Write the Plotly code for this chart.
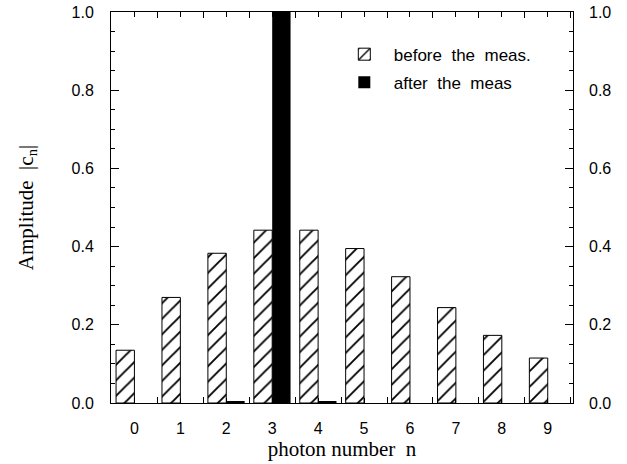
import plotly.graph_objects as go

n_vals = [0, 1, 2, 3, 4, 5, 6, 7, 8, 9]
before_meas = [0.135, 0.27, 0.383, 0.442, 0.442, 0.395, 0.323, 0.244, 0.173, 0.115]
after_meas = [0.0, 0.0, 0.005, 1.0, 0.005, 0.0, 0.0, 0.0, 0.0, 0.0]
y_ticks = [0.0, 0.2, 0.4, 0.6, 0.8, 1.0]
y_ticktext = ["0.0", "0.2", "0.4", "0.6", "0.8", "1.0"]
y_minor_ticks = [0.05, 0.1, 0.15, 0.25, 0.3, 0.35, 0.45, 0.5, 0.55, 0.65, 0.7, 0.75, 0.85, 0.9, 0.95]
x_ticktext = [str(v) for v in n_vals]
x_boundaries = [-0.5, 0.5, 1.5, 2.5, 3.5, 4.5, 5.5, 6.5, 7.5, 8.5, 9.5]

SANS = "Liberation Sans, Arial, sans-serif"
SERIF = "Liberation Serif, Times New Roman, serif"

fig = go.Figure()
fig.add_trace(go.Bar(
    x=n_vals, y=before_meas, name="\u00a0\u00a0before\u00a0 the\u00a0 meas.",
    width=0.4, offset=-0.4,
    marker=dict(color="white", line=dict(color="black", width=1),
                pattern=dict(shape="/", fgcolor="black", bgcolor="white", fgopacity=1,
                             size=11, solidity=0.17)),
    legendgroup="a",
))
fig.add_trace(go.Bar(
    x=n_vals, y=after_meas, name="\u00a0\u00a0after\u00a0 the\u00a0 meas",
    width=0.4, offset=0.0,
    marker=dict(color="black", line=dict(color="black", width=0)),
    legendgroup="b",
))
# invisible traces to activate the extra axes (right labels, minor ticks)
fig.add_trace(go.Scatter(x=[n_vals[0]], y=[y_ticks[0]], yaxis="y2", mode="markers",
                         marker=dict(opacity=0), showlegend=False, hoverinfo="skip"))
fig.add_trace(go.Scatter(x=[n_vals[0]], y=[y_ticks[0]], yaxis="y3", mode="markers",
                         marker=dict(opacity=0), showlegend=False, hoverinfo="skip"))
fig.add_trace(go.Scatter(x=[n_vals[0]], y=[y_ticks[0]], xaxis="x2", mode="markers",
                         marker=dict(opacity=0), showlegend=False, hoverinfo="skip"))

fig.update_layout(
    width=627, height=464,
    margin=dict(l=111, r=54, t=12, b=61),
    paper_bgcolor="white", plot_bgcolor="white",
    barmode="overlay",
    showlegend=True,
    legend=dict(x=0.505, y=0.937, xanchor="left", yanchor="top",
                font=dict(family=SANS, size=17, color="black"),
                bgcolor="rgba(0,0,0,0)", traceorder="grouped", tracegroupgap=3),
    xaxis=dict(
        range=[-0.51, 9.55], tickmode="array", tickvals=n_vals, ticktext=x_ticktext,
        ticks="inside", ticklen=5, tickcolor="black", tickwidth=1,
        showline=True, linecolor="black", linewidth=1, mirror="ticks",
        showgrid=False, zeroline=False, automargin=False,
        tickfont=dict(family=SANS, size=16, color="black"),
        ticklabelstandoff=11,
        title=dict(text="photon number\u00a0 n", font=dict(family=SERIF, size=21, color="black"), standoff=4),
    ),
    xaxis2=dict(
        overlaying="x", side="bottom", anchor="y", range=[-0.51, 9.55], tickmode="array",
        tickvals=x_boundaries, showticklabels=False,
        ticks="inside", ticklen=6, tickcolor="black", tickwidth=1,
        showline=False, mirror="ticks", showgrid=False, zeroline=False, automargin=False,
    ),
    yaxis=dict(
        range=[0, 1.0], tickmode="array", tickvals=y_ticks, ticktext=y_ticktext,
        ticks="inside", ticklen=8, tickcolor="black", tickwidth=1,
        showline=True, linecolor="black", linewidth=1, mirror="ticks",
        showgrid=False, zeroline=False, automargin=False,
        tickfont=dict(family=SANS, size=16, color="black"),
        ticklabelstandoff=13,
        title=dict(text="Amplitude\u00a0 |c<sub>n</sub>|", font=dict(family=SERIF, size=21, color="black"), standoff=32),
    ),
    yaxis2=dict(
        overlaying="y", side="right", range=[0, 1.0], tickmode="array",
        tickvals=y_ticks, ticktext=y_ticktext, ticks="", showline=False,
        showgrid=False, zeroline=False, automargin=False,
        tickfont=dict(family=SANS, size=16, color="black"),
        ticklabelstandoff=15,
    ),
    yaxis3=dict(
        overlaying="y", side="left", range=[0, 1.0], tickmode="array",
        tickvals=y_minor_ticks, showticklabels=False,
        ticks="inside", ticklen=4, tickcolor="black", tickwidth=1,
        showline=False, mirror="ticks", showgrid=False, zeroline=False, automargin=False,
    ),
)

fig.write_html("out.html", config={"displayModeBar": False},
               post_script="document.body.style.margin='0px';")
